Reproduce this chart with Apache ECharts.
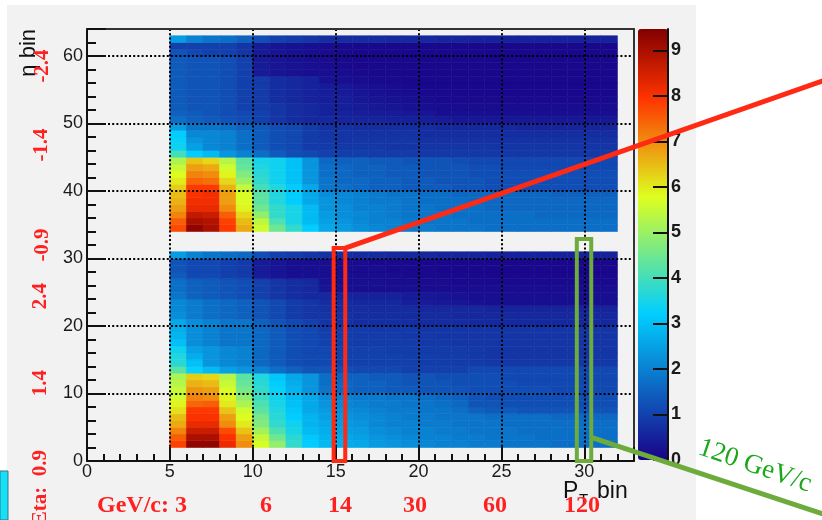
<!DOCTYPE html>
<html><head><meta charset="utf-8">
<script src="https://cdn.jsdelivr.net/npm/echarts@6/dist/echarts.min.js"></script>
<style>html,body{margin:0;padding:0;background:#fff}#c{width:822px;height:520px}</style>
</head><body><div id="c"></div>
<script>
// ---------------- data ----------------
const xBins = [5,6,7,8,9,10,11,12,13,14,15,16,17,18,19,20,21,22,23,24,25,26,27,28,29,30,31];
const lowerRows = [2,3,4,5,6,7,8,9,10,11,12,13,14,15,16,17,18,19,20,21,22,23,24,25,26,27,28,29,30];
const upperRows = [34,35,36,37,38,39,40,41,42,43,44,45,46,47,48,49,50,51,52,53,54,55,56,57,58,59,60,61,62];

// values per row (x = 5..31), lower eta block, rows y = 2..30
const lowerBlock = [
[7.8,9.3,9.3,8.2,7.0,5.7,4.9,3.8,3.2, 2.9,2.7,2.6,2.4,2.3,2.2,2.1,2.0,2.0,1.9,1.9,1.8,1.8,1.8,1.7,1.7,1.7,1.7],
[7.5,9.0,9.0,8.0,6.8,5.5,4.5,3.7,3.1, 2.8,2.6,2.5,2.3,2.2,2.1,2.0,2.0,1.9,1.9,1.8,1.8,1.8,1.7,1.7,1.7,1.7,1.7],
[7.1,8.6,8.6,7.7,6.4,5.1,4.1,3.5,2.9, 2.7,2.5,2.4,2.2,2.1,2.0,2.0,1.9,1.9,1.8,1.8,1.8,1.7,1.7,1.7,1.7,1.7,1.7],
[6.7,8.2,8.2,7.0,6.0,4.7,3.8,3.4,2.8, 2.6,2.4,2.3,2.1,2.0,2.0,1.9,1.9,1.8,1.8,1.8,1.7,1.7,1.7,1.7,1.7,1.7,1.7],
[6.5,8.0,8.0,6.8,5.8,4.6,3.7,3.2,2.8, 2.5,2.3,2.2,2.1,2.0,1.9,1.9,1.8,1.8,1.8,1.7,1.7,1.7,1.7,1.6,1.6,1.6,1.6],
[6.1,7.9,7.9,6.4,5.6,4.3,3.6,3.1,2.6, 2.4,2.2,2.1,2.0,1.9,1.9,1.8,1.8,1.7,1.5,1.4,1.4,1.3,1.3,1.3,1.3,1.3,1.3],
[5.9,7.4,7.5,6.0,5.2,4.1,3.5,3.0,2.6, 2.3,2.1,2.0,1.9,1.9,1.8,1.8,1.7,1.6,1.3,1.3,1.2,1.2,1.2,1.2,1.2,1.2,1.2],
[5.6,7.1,7.0,5.9,4.9,3.9,3.4,2.9,2.6, 2.2,2.0,1.9,1.9,1.8,1.8,1.7,1.6,1.5,1.3,1.2,1.2,1.2,1.2,1.2,1.2,1.2,1.2],
[5.5,6.9,6.8,5.7,4.6,3.8,3.3,2.8,2.3, 1.8,1.6,1.5,1.5,1.4,1.4,1.3,1.3,1.3,1.2,1.2,1.2,1.2,1.2,1.1,1.1,1.1,1.1],
[5.3,6.6,6.5,5.5,4.4,3.7,3.2,2.7,2.3, 1.7,1.6,1.5,1.5,1.4,1.3,1.3,1.3,1.2,1.2,1.2,1.2,1.1,1.1,1.1,1.1,1.1,1.1],
[5.2,6.3,6.2,5.3,4.3,3.6,3.1,2.6,2.3, 1.7,1.5,1.5,1.4,1.4,1.3,1.3,1.2,1.2,1.2,1.2,1.1,1.1,1.1,1.1,1.1,1.1,1.1],
[4.3,3.3,2.9,2.5,2.3,2.0,1.7,1.5,1.3, 1.3,1.2,1.1,1.1,1.1,1.0,1.0,1.0,1.0,1.1,1.1,1.1,1.1,1.1,1.1,1.1,1.1,1.1],
[3.7,3.0,2.3,2.1,2.0,1.6,1.4,1.2,1.1, 1.1,1.0,1.0,1.0,1.0,1.0,0.95,0.95,0.9,0.9,0.85,0.85,0.85,0.85,0.85,0.85,0.85,0.85],
[3.6,2.7,2.3,2.1,2.0,1.6,1.4,1.2,1.1, 1.1,1.0,1.0,1.0,1.0,0.95,0.95,0.9,0.9,0.85,0.8,0.8,0.8,0.8,0.8,0.8,0.8,0.8],
[3.4,2.5,2.3,2.1,2.0,1.6,1.4,1.2,1.1, 1.1,1.0,1.0,1.0,0.95,0.95,0.9,0.9,0.9,0.85,0.8,0.8,0.8,0.8,0.8,0.8,0.8,0.8],
[3.0,2.2,2.0,1.8,1.8,1.6,1.4,1.2,1.1, 1.0,0.95,0.9,0.9,0.9,0.9,0.85,0.85,0.8,0.8,0.8,0.8,0.8,0.8,0.8,0.8,0.8,0.8],
[2.8,2.2,2.0,1.8,1.8,1.6,1.4,1.2,1.1, 1.0,0.95,0.9,0.9,0.9,0.85,0.85,0.8,0.8,0.8,0.8,0.8,0.8,0.8,0.8,0.8,0.8,0.8],
[2.7,2.2,2.0,1.8,1.8,1.6,1.4,1.2,1.1, 0.95,0.9,0.9,0.85,0.85,0.85,0.8,0.8,0.8,0.8,0.8,0.8,0.8,0.8,0.8,0.8,0.8,0.8],
[2.6,2.2,2.0,1.8,1.8,1.5,1.3,1.1,1.0, 0.8,0.75,0.7,0.7,0.7,0.7,0.65,0.65,0.65,0.6,0.6,0.6,0.6,0.6,0.6,0.6,0.6,0.6],
[2.2,1.9,1.7,1.6,1.5,1.3,1.1,0.9,0.8, 0.8,0.75,0.7,0.7,0.7,0.65,0.65,0.65,0.6,0.6,0.6,0.6,0.6,0.6,0.6,0.6,0.6,0.6],
[2.1,1.9,1.7,1.6,1.5,1.3,1.1,0.9,0.8, 0.75,0.7,0.7,0.65,0.65,0.65,0.6,0.6,0.6,0.6,0.55,0.55,0.55,0.55,0.55,0.55,0.55,0.55],
[2.1,1.9,1.7,1.6,1.5,1.3,1.1,0.9,0.8, 0.7,0.65,0.6,0.6,0.6,0.45,0.4,0.35,0.3,0.25,0.2,0.2,0.2,0.2,0.2,0.2,0.2,0.2],
[1.8,1.5,1.4,1.3,1.2,1.0,0.8,0.7,0.6, 0.6,0.55,0.5,0.5,0.5,0.4,0.35,0.3,0.25,0.2,0.2,0.2,0.2,0.2,0.2,0.2,0.2,0.2],
[1.7,1.5,1.4,1.3,1.2,1.0,0.8,0.7,0.6, 0.3,0.25,0.2,0.2,0.2,0.2,0.15,0.15,0.15,0.15,0.15,0.15,0.15,0.15,0.15,0.15,0.15,0.15],
[1.7,1.5,1.4,1.3,1.2,1.0,0.8,0.7,0.6, 0.25,0.2,0.2,0.2,0.15,0.15,0.15,0.15,0.12,0.12,0.12,0.12,0.12,0.12,0.12,0.12,0.12,0.12],
[1.4,1.1,1.1,1.0,0.9,0.4,0.3,0.2,0.2, 0.2,0.2,0.15,0.15,0.15,0.12,0.12,0.12,0.12,0.1,0.1,0.1,0.1,0.1,0.1,0.1,0.1,0.1],
[1.3,1.1,1.1,1.0,0.9,0.4,0.3,0.2,0.2, 0.2,0.15,0.15,0.15,0.12,0.12,0.12,0.1,0.1,0.1,0.1,0.1,0.1,0.1,0.1,0.1,0.1,0.1],
[1.3,1.1,1.1,1.0,0.9,0.4,0.3,0.2,0.2, 0.2,0.15,0.15,0.12,0.12,0.12,0.1,0.1,0.1,0.1,0.1,0.1,0.1,0.1,0.1,0.1,0.1,0.1],
[2.4,2.0,1.8,1.7,1.6,1.2,1.0,0.9,0.8, 0.75,0.7,0.65,0.65,0.6,0.6,0.6,0.55,0.55,0.55,0.5,0.5,0.5,0.5,0.5,0.5,0.5,0.5]
];

// values per row (x = 5..31), upper eta block, rows y = 34..62
const upperBlock = [
[7.7,9.3,9.0,7.9,6.7,5.6,4.5,3.8,3.2, 2.6,2.4,2.2,2.1,2.0,1.9,1.9,1.8,1.8,1.8,1.7,1.7,1.7,1.7,1.7,1.7,1.7,1.7],
[7.5,9.0,8.9,7.8,6.5,5.4,4.1,3.5,2.9, 2.5,2.3,2.1,2.0,2.0,1.9,1.8,1.8,1.8,1.7,1.7,1.7,1.7,1.7,1.7,1.7,1.7,1.7],
[7.1,8.7,8.6,7.5,6.2,4.9,3.8,3.5,2.9, 2.4,2.2,2.1,2.0,1.9,1.8,1.8,1.8,1.7,1.7,1.7,1.7,1.7,1.6,1.6,1.6,1.6,1.6],
[6.8,8.2,8.2,7.0,5.9,4.5,3.8,3.5,2.9, 2.3,2.2,2.0,2.0,1.9,1.8,1.8,1.7,1.7,1.7,1.6,1.6,1.6,1.6,1.6,1.6,1.6,1.6],
[6.6,8.1,8.1,6.8,5.7,4.3,3.6,3.2,2.6, 2.3,2.1,2.0,1.9,1.9,1.8,1.7,1.7,1.7,1.6,1.6,1.6,1.6,1.6,1.6,1.6,1.6,1.6],
[6.5,8.0,8.1,6.8,5.7,4.3,3.6,3.2,2.6, 2.2,2.1,2.0,1.9,1.8,1.8,1.7,1.7,1.6,1.6,1.6,1.6,1.6,1.6,1.5,1.5,1.5,1.5],
[6.3,7.9,7.9,6.6,5.5,4.0,3.6,3.2,2.6, 1.8,1.7,1.6,1.5,1.5,1.4,1.4,1.4,1.3,1.3,1.2,1.2,1.2,1.2,1.2,1.2,1.2,1.2],
[6.0,7.4,7.3,6.2,5.0,3.8,3.4,3.0,2.3, 1.8,1.6,1.6,1.5,1.5,1.4,1.4,1.3,1.3,1.3,1.2,1.2,1.2,1.2,1.2,1.2,1.2,1.2],
[5.8,7.1,7.0,5.9,4.7,3.7,3.4,3.0,2.3, 1.7,1.6,1.5,1.5,1.4,1.4,1.3,1.3,1.3,1.2,1.2,1.2,1.2,1.2,1.2,1.2,1.2,1.2],
[5.5,6.8,6.7,5.6,4.4,3.6,3.4,3.0,2.3, 1.7,1.6,1.5,1.5,1.4,1.4,1.3,1.3,1.3,1.2,1.2,1.1,1.1,1.1,1.1,1.1,1.1,1.1],
[5.2,6.4,6.2,5.3,4.3,3.5,3.4,3.0,2.3, 1.6,1.5,1.5,1.4,1.4,1.3,1.3,1.3,1.2,1.1,1.1,1.1,1.1,1.1,1.1,1.1,1.1,1.1],
[4.0,3.2,2.9,2.3,2.0,1.7,1.4,1.2,1.1, 1.0,0.95,0.95,0.9,0.9,0.9,0.85,0.85,0.85,0.85,0.85,0.85,0.85,0.85,0.85,0.85,0.85,0.85],
[3.4,2.5,2.1,2.0,1.7,1.4,1.2,1.1,0.9, 0.9,0.85,0.85,0.85,0.8,0.8,0.8,0.8,0.8,0.8,0.8,0.8,0.8,0.8,0.8,0.8,0.8,0.8],
[3.3,2.3,2.1,2.0,1.7,1.4,1.2,1.1,0.9, 0.85,0.8,0.8,0.8,0.8,0.8,0.75,0.75,0.75,0.75,0.75,0.75,0.75,0.75,0.75,0.75,0.75,0.75],
[3.2,2.1,2.1,2.0,1.7,1.4,1.2,1.1,0.9, 0.8,0.8,0.75,0.75,0.75,0.75,0.7,0.7,0.7,0.7,0.7,0.7,0.7,0.7,0.7,0.7,0.7,0.7],
[2.4,1.8,1.8,1.7,1.5,1.4,1.2,1.1,0.9, 0.75,0.75,0.7,0.7,0.7,0.7,0.7,0.6,0.6,0.6,0.6,0.6,0.55,0.55,0.55,0.55,0.55,0.55],
[1.7,1.5,1.4,1.3,1.2,1.0,0.8,0.7,0.6, 0.6,0.55,0.55,0.55,0.5,0.5,0.45,0.4,0.35,0.35,0.35,0.35,0.35,0.35,0.35,0.35,0.35,0.35],
[1.5,1.4,1.3,1.2,1.1,1.0,0.8,0.7,0.6, 0.5,0.5,0.45,0.4,0.4,0.35,0.3,0.2,0.2,0.2,0.2,0.2,0.2,0.2,0.2,0.2,0.2,0.2],
[1.4,1.3,1.3,1.2,1.0,0.9,0.8,0.7,0.6, 0.5,0.45,0.4,0.35,0.3,0.25,0.2,0.15,0.15,0.15,0.15,0.15,0.15,0.15,0.15,0.15,0.15,0.15],
[1.4,1.3,1.3,1.2,1.0,0.9,0.7,0.6,0.5, 0.45,0.45,0.35,0.3,0.25,0.2,0.15,0.12,0.12,0.12,0.12,0.12,0.12,0.12,0.12,0.12,0.12,0.12],
[1.4,1.3,1.3,1.2,1.0,0.9,0.7,0.6,0.5, 0.45,0.4,0.3,0.25,0.2,0.15,0.12,0.12,0.1,0.1,0.1,0.1,0.1,0.1,0.1,0.1,0.1,0.1],
[1.4,1.3,1.3,1.2,1.0,0.9,0.7,0.6,0.5, 0.4,0.35,0.25,0.2,0.15,0.12,0.1,0.1,0.1,0.1,0.1,0.1,0.1,0.1,0.1,0.1,0.1,0.1],
[1.4,1.3,1.3,1.2,1.0,0.9,0.7,0.6,0.5, 0.25,0.2,0.15,0.12,0.12,0.1,0.1,0.1,0.1,0.1,0.1,0.1,0.1,0.1,0.1,0.1,0.1,0.1],
[1.4,1.3,1.3,1.2,1.0,0.4,0.3,0.25,0.2, 0.2,0.15,0.12,0.1,0.1,0.1,0.1,0.1,0.1,0.1,0.1,0.1,0.1,0.1,0.1,0.1,0.1,0.1],
[1.4,1.3,1.3,1.2,1.0,0.4,0.3,0.25,0.2, 0.15,0.12,0.1,0.1,0.1,0.1,0.1,0.1,0.1,0.1,0.1,0.1,0.1,0.1,0.1,0.1,0.1,0.1],
[1.4,1.3,1.3,1.2,1.0,0.4,0.3,0.25,0.2, 0.15,0.12,0.1,0.1,0.1,0.1,0.1,0.1,0.1,0.1,0.1,0.1,0.1,0.1,0.1,0.1,0.1,0.1],
[1.3,1.1,1.0,1.0,0.8,0.4,0.3,0.25,0.2, 0.15,0.12,0.1,0.1,0.1,0.1,0.1,0.1,0.1,0.1,0.1,0.1,0.1,0.1,0.1,0.1,0.1,0.1],
[1.0,1.0,1.0,1.0,0.8,0.4,0.3,0.25,0.2, 0.15,0.12,0.1,0.1,0.1,0.1,0.1,0.1,0.1,0.1,0.1,0.1,0.1,0.1,0.1,0.1,0.1,0.1],
[2.4,2.0,1.8,1.7,1.5,1.2,1.0,0.9,0.8, 0.7,0.7,0.65,0.65,0.6,0.6,0.6,0.55,0.55,0.5,0.5,0.5,0.5,0.5,0.5,0.5,0.5,0.5]
];

const colorbarTicks = [0,1,2,3,4,5,6,7,8,9];
const colorMax = 9.47;
const etaLabels = ['Eta:  0.9','1.4','2.4','-0.9','-1.4','-2.4'];
const ptLabels = ['GeV/c: 3','6','14','30','60','120'];
const greenNote = '120 GeV/c';

// annotation boxes in data units [x0, x1, y0, y1]
const redBox = [14.88, 15.58, 0, 31.55];
const greenBox = [29.55, 30.42, 0, 32.9];
const redLineEnd = [45.4, 57.2];
const greenLineStart = [30.42, 3.5];
const greenLineEnd = [45.4, -8.67];

// ---------------- build ----------------
const cells = [];
lowerRows.forEach((y, r) => xBins.forEach((x, i) => cells.push([x, y, lowerBlock[r][i]])));
upperRows.forEach((y, r) => xBins.forEach((x, i) => cells.push([x, y, upperBlock[r][i]])));

// ROOT-like rainbow palette
const stops = [[0,[26,2,136]],[0.34,[0,207,255]],[0.61,[222,255,31]],[0.84,[255,51,0]],[1,[130,0,0]]];
const palette = [];
for (let i = 0; i <= 120; i++) {
  const t = i / 120;
  let k = 0;
  while (k < stops.length - 2 && t > stops[k + 1][0]) k++;
  const a = stops[k], b = stops[k + 1];
  const f = (t - a[0]) / (b[0] - a[0]);
  const c = a[1].map((v, j) => Math.round(v + (b[1][j] - v) * f));
  palette.push('rgb(' + c.join(',') + ')');
}

const ink = '#111';
const font = '"Liberation Sans", Arial, sans-serif';
const gridLine = { show: true, showMinLine: false, showMaxLine: false, lineStyle: { color: '#000', width: 2, type: [2, 2.2] } };

const chart = echarts.init(document.getElementById('c'), null, { renderer: 'canvas' });
chart.setOption({
  backgroundColor: 'transparent',
  animation: false,
  grid: [
    { left: 87, top: 29, width: 547, height: 432, containLabel: false, outerBoundsMode: 'none' },
    { left: 638, top: 29, width: 30, height: 431, containLabel: false, outerBoundsMode: 'none' }
  ],
  xAxis: [
    { gridIndex: 0, type: 'value', min: 0, max: 33, interval: 5, position: 'bottom', z: 4,
      axisLine: { show: true, onZero: false, lineStyle: { color: ink, width: 2 } },
      axisTick: { show: true, inside: true, length: 14, lineStyle: { color: ink, width: 2 } },
      axisLabel: { margin: 2, fontSize: 18, color: '#1a1a1a', fontFamily: font, formatter: v => (v % 5 === 0 ? String(v) : '') },
      splitLine: gridLine },
    { gridIndex: 0, type: 'value', min: 0, max: 33, interval: 1, position: 'bottom', z: 4,
      axisLine: { show: false, onZero: false },
      axisTick: { show: true, inside: true, length: 7, lineStyle: { color: ink, width: 2 } },
      axisLabel: { show: false }, splitLine: { show: false } },
    { gridIndex: 0, type: 'value', min: 0, max: 33, position: 'top', z: 4,
      axisLine: { show: true, onZero: false, lineStyle: { color: '#333', width: 2 } },
      axisTick: { show: false }, axisLabel: { show: false }, splitLine: { show: false } },
    { gridIndex: 1, type: 'value', min: 0, max: 1, show: false }
  ],
  yAxis: [
    { gridIndex: 0, type: 'value', min: 0, max: 64, interval: 10, position: 'left', z: 4,
      axisLine: { show: true, onZero: false, lineStyle: { color: ink, width: 2 } },
      axisTick: { show: true, inside: true, length: 19, lineStyle: { color: ink, width: 2 } },
      axisLabel: { margin: 4, fontSize: 18, color: '#1a1a1a', fontFamily: font, formatter: v => (v % 10 === 0 ? String(v) : '') },
      splitLine: gridLine },
    { gridIndex: 0, type: 'value', min: 0, max: 64, interval: 2, position: 'left', z: 4,
      axisLine: { show: false, onZero: false },
      axisTick: { show: true, inside: true, length: 9, lineStyle: { color: ink, width: 2 } },
      axisLabel: { show: false }, splitLine: { show: false } },
    { gridIndex: 0, type: 'value', min: 0, max: 64, position: 'right', z: 4,
      axisLine: { show: true, onZero: false, lineStyle: { color: '#333', width: 2 } },
      axisTick: { show: false }, axisLabel: { show: false }, splitLine: { show: false } },
    { gridIndex: 1, type: 'value', min: 0, max: colorMax, interval: 1, position: 'right', z: 5,
      axisLine: { show: true, onZero: false, lineStyle: { color: ink, width: 2 } },
      axisTick: { show: true, inside: true, length: 15, customValues: colorbarTicks, lineStyle: { color: ink, width: 2 } },
      axisLabel: { margin: 3, fontSize: 18, fontWeight: 'bold', color: '#1a1a1a', fontFamily: font, customValues: colorbarTicks,
        formatter: v => (Number.isInteger(v) ? String(v) : '') },
      splitLine: { show: false } }
  ],
  visualMap: {
    type: 'continuous', min: 0, max: colorMax, seriesIndex: 0, dimension: 2,
    calculable: false, hoverLink: false, show: true, left: 638, top: 29, padding: 0,
    itemWidth: 30, itemHeight: 431, inRange: { color: palette }
  },
  series: [{
    type: 'custom', xAxisIndex: 0, yAxisIndex: 0, z: 2, silent: true,
    dimensions: ['x', 'y', 'v'], encode: { x: 0, y: 1 },
    data: cells,
    renderItem: (params, api) => {
      const x = api.value(0), y = api.value(1);
      const p0 = api.coord([x, y + 1]);
      const p1 = api.coord([x + 1, y]);
      const col = api.visual('color');
      return { type: 'rect', shape: { x: p0[0], y: p0[1], width: p1[0] - p0[0], height: p1[1] - p0[1] },
        style: { fill: col, stroke: col, lineWidth: 0.6 } };
    }
  }]
});

const px = p => chart.convertToPixel({ gridIndex: 0 }, p);
function boxRect(b) {
  const a = px([b[0], b[3]]), c = px([b[1], b[2]]);
  return { x: a[0], y: a[1], width: c[0] - a[0], height: c[1] - a[1] };
}
const rb = boxRect(redBox), gb = boxRect(greenBox);
const rStart = px([redBox[1], redBox[3]]), rEnd = px(redLineEnd);
const gStart = px(greenLineStart), gEnd = px(greenLineEnd);

const RED = '#ff2a14', REDTXT = '#ff2020', GREEN = '#6cab3c', GREENTXT = '#1aa81a';
const etaPos = [[41, 450, 'right'], [41, 383, 'center'], [41, 296, 'center'], [43, 245, 'center'], [42, 145, 'center'], [43, 66, 'center']];
const ptPos = [142, 266, 340, 415, 495, 582];

const g = [];
g.push({ type: 'rect', z: -10, silent: true, shape: { x: 7, y: 5, width: 689, height: 520 }, style: { fill: '#f2f2f2' } });
g.push({ type: 'rect', z: -9, silent: true, shape: { x: 0, y: 471, width: 8, height: 49 }, style: { fill: '#12e2f8', stroke: '#4a6a8a', lineWidth: 1 } });
// axis titles
g.push({ type: 'text', z: 50, x: 29, y: 29, rotation: Math.PI / 2,
  style: { text: '\u03b7 bin', font: '22px ' + font, fill: ink, align: 'right', verticalAlign: 'middle', textAlign: 'right', textVerticalAlign: 'middle' } });
g.push({ type: 'text', z: 50, x: 563, y: 492,
  style: { text: 'P', font: '23px ' + font, fill: ink, align: 'left', verticalAlign: 'middle', textAlign: 'left', textVerticalAlign: 'middle' } });
g.push({ type: 'text', z: 50, x: 579, y: 500,
  style: { text: 'T', font: '15px ' + font, fill: ink, align: 'left', verticalAlign: 'middle', textAlign: 'left', textVerticalAlign: 'middle' } });
g.push({ type: 'text', z: 50, x: 597, y: 492,
  style: { text: 'bin', font: '23px ' + font, fill: ink, align: 'left', verticalAlign: 'middle', textAlign: 'left', textVerticalAlign: 'middle' } });
// annotations
g.push({ type: 'rect', z: 60, silent: true, shape: rb, style: { fill: 'transparent', stroke: RED, lineWidth: 4 } });
g.push({ type: 'line', z: 60, silent: true, shape: { x1: rStart[0], y1: rStart[1], x2: rEnd[0], y2: rEnd[1] }, style: { stroke: RED, lineWidth: 5 } });
g.push({ type: 'rect', z: 60, silent: true, shape: gb, style: { fill: 'transparent', stroke: GREEN, lineWidth: 4 } });
g.push({ type: 'line', z: 60, silent: true, shape: { x1: gStart[0], y1: gStart[1], x2: gEnd[0], y2: gEnd[1] }, style: { stroke: GREEN, lineWidth: 5 } });
g.push({ type: 'text', z: 61, x: 755, y: 466, rotation: -0.33,
  style: { text: greenNote, font: '27px "Liberation Serif", "Times New Roman", serif', fill: GREENTXT, align: 'center', verticalAlign: 'middle', textAlign: 'center', textVerticalAlign: 'middle' } });
etaLabels.forEach((t, i) => {
  const p = etaPos[i];
  g.push({ type: 'text', z: 62, x: p[0], y: p[1], rotation: Math.PI / 2,
    style: { text: t, font: 'bold 21px "Liberation Serif", "Times New Roman", serif', fill: REDTXT, align: p[2], verticalAlign: 'middle', textAlign: p[2], textVerticalAlign: 'middle' } });
});
ptLabels.forEach((t, i) => {
  g.push({ type: 'text', z: 62, x: ptPos[i], y: 506,
    style: { text: t, font: 'bold 24px "Liberation Serif", "Times New Roman", serif', fill: REDTXT, align: 'center', verticalAlign: 'middle', textAlign: 'center', textVerticalAlign: 'middle' } });
});
chart.setOption({ graphic: g });
</script>
</body></html>
